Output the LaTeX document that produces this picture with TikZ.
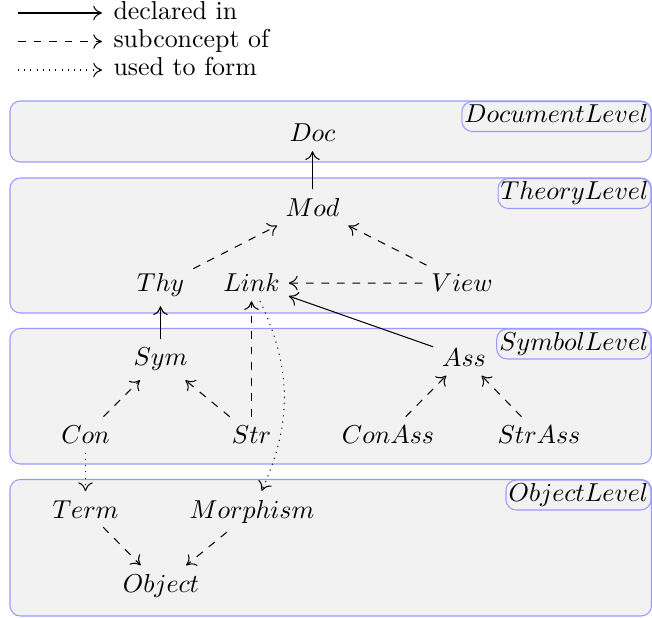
\documentclass[tikz,border=0pt]{standalone}
\usetikzlibrary{arrows.meta}
\begin{document}
\begin{tikzpicture}[x=0.3861pt,y=-0.3861pt,
  >={To[length=3.4pt,width=5.6pt]},
  lvl/.style={draw=blue!40, fill=gray!10, rounded corners=4pt},
  lvllbl/.style={draw=blue!40, fill=gray!10, rounded corners=4pt, anchor=north east,
    inner xsep=1pt, inner ysep=1.35pt, text height=6.94pt, text depth=1.94pt},
  concept/.style={anchor=base},
  legtext/.style={anchor=base west, inner sep=0pt},
  decl/.style={->},
  subc/.style={->,dashed},
  form/.style={->,dotted}]
\useasboundingbox (0,0) rectangle (652,618);

% legend
\coordinate (l1s) at (18,13);   \coordinate (l1e) at (102,13);
\coordinate (l2s) at (18,41.5); \coordinate (l2e) at (102,41.5);
\coordinate (l3s) at (18,70);   \coordinate (l3e) at (102,70);
\draw[decl] (l1s) -- (l1e);
\draw[subc] (l2s) -- (l2e);
\draw[form] (l3s) -- (l3e);
\node[legtext] (legdecl) at (113,20) {declared in};
\node[legtext] (legsub) at (113,48) {subconcept of};
\node[legtext] (legform) at (113,76) {used to form};

% level boxes
\draw[lvl] (10,101) rectangle (651.5,162);
\draw[lvl] (10,178) rectangle (651.5,313);
\draw[lvl] (10,328.5) rectangle (651.5,464);
\draw[lvl] (10,479.5) rectangle (651.5,616);
\coordinate (docNE) at (651.5,101);
\coordinate (thyNE) at (651.5,178);
\coordinate (symNE) at (651.5,328.5);
\coordinate (objNE) at (651.5,479.5);
\node[lvllbl] (doclvl) at (docNE) {$DocumentLevel$};
\node[lvllbl] (thylvl) at (thyNE) {$TheoryLevel$};
\node[lvllbl] (symlvl) at (symNE) {$SymbolLevel$};
\node[lvllbl] (objlvl) at (objNE) {$ObjectLevel$};

% concepts
\node[concept] (doc) at (312.5,142) {$Doc$};
\node[concept] (mod) at (312.5,216.5) {$Mod$};
\node[concept] (thy) at (160.5,292) {$Thy$};
\node[concept] (link) at (251.5,292) {$Link$};
\node[concept] (view) at (462,292) {$View$};
\node[concept] (sym) at (160.5,366) {$Sym$};
\node[concept] (ass) at (464,366.5) {$Ass$};
\node[concept] (con) at (85.5,443.5) {$Con$};
\node[concept] (str) at (251.5,443.5) {$Str$};
\node[concept] (conass) at (388,443.5) {$ConAss$};
\node[concept] (strass) at (539,443.5) {$StrAss$};
\node[concept] (term) at (85.5,518) {$Term$};
\node[concept] (morph) at (252,518) {$Morphism$};
\node[concept] (obj) at (161,592.5) {$Object$};

% connectors
\draw[decl] (mod) -- (doc);
\draw[subc] (thy) -- (mod);
\draw[subc] (view) -- (mod);
\draw[subc] (view) -- (link);
\draw[decl] (sym) -- (thy);
\draw[decl] (ass) -- (link);
\draw[subc] (str) -- (link);
\draw[form] (link) to[bend left=25] (morph);
\draw[subc] (con) -- (sym);
\draw[subc] (str) -- (sym);
\draw[subc] (conass) -- (ass);
\draw[subc] (strass) -- (ass);
\draw[form] (con) -- (term);
\draw[subc] (term) -- (obj);
\draw[subc] (morph) -- (obj);
\end{tikzpicture}
\end{document}
